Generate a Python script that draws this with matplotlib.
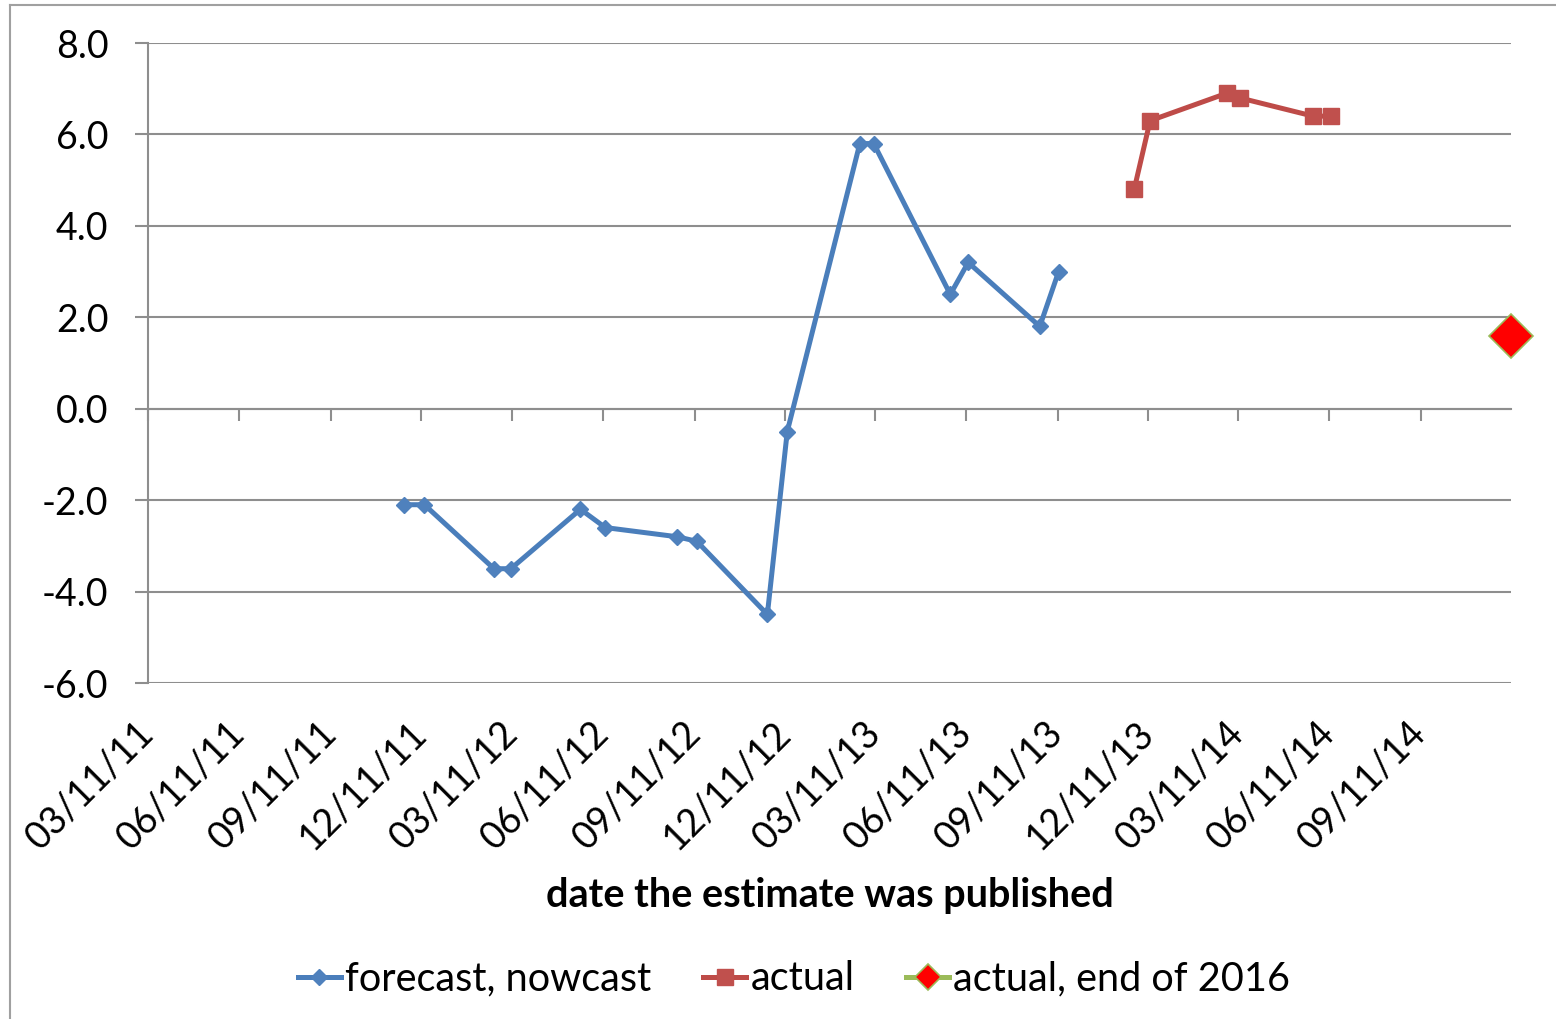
import datetime as dt

import matplotlib
matplotlib.use("Agg")
import matplotlib.pyplot as plt
import matplotlib.dates as mdates
from matplotlib.lines import Line2D
from matplotlib.ticker import FormatStrFormatter

# ---- data -------------------------------------------------------------
forecast_dates = ["2011-11-23", "2011-12-14", "2012-02-22", "2012-03-10",
                  "2012-05-19", "2012-06-13", "2012-08-24", "2012-09-13",
                  "2012-11-23", "2012-12-13", "2013-02-24", "2013-03-10",
                  "2013-05-26", "2013-06-13", "2013-08-24", "2013-09-12"]
forecast_values = [-2.1, -2.1, -3.5, -3.5, -2.2, -2.6, -2.8, -2.9,
                   -4.5, -0.5, 5.8, 5.8, 2.5, 3.2, 1.8, 3.0]

actual_dates = ["2013-11-27", "2013-12-13", "2014-02-28", "2014-03-13",
                "2014-05-26", "2014-06-13"]
actual_values = [4.8, 6.3, 6.9, 6.8, 6.4, 6.4]

final_dates = ["2014-12-11"]
final_values = [1.6]

tick_dates = ["2011-03-11", "2011-06-11", "2011-09-11", "2011-12-11",
              "2012-03-11", "2012-06-11", "2012-09-11", "2012-12-11",
              "2013-03-11", "2013-06-11", "2013-09-11", "2013-12-11",
              "2014-03-11", "2014-06-11", "2014-09-11"]
x_range = ["2011-03-11", "2014-12-11"]
y_ticks = [-6.0, -4.0, -2.0, 0.0, 2.0, 4.0, 6.0, 8.0]

series_labels = ["forecast, nowcast", "actual", "actual, end of 2016"]
x_title = "date the estimate was published"


def to_num(dates):
    return [mdates.date2num(dt.date.fromisoformat(d)) for d in dates]


# ---- style ------------------------------------------------------------
plt.rcParams["font.family"] = ["Lato", "DejaVu Sans"]
plt.rcParams["axes.unicode_minus"] = False
FS = 27
FS_TEXT = 28.5
GRID = "#8e8e8e"
BLUE_LINE = "#4a7ebb"
BLUE_MARK = "#4f81bd"
RED_LINE = "#be4b48"
RED_MARK = "#c0504d"
GREEN = "#9bbb59"

W, H = 1556, 1019
fig = plt.figure(figsize=(W / 100, H / 100), dpi=100)
ax = fig.add_axes([148 / W, 1 - 683 / H, (1511 - 148) / W, (683 - 43) / H])

# ---- series -----------------------------------------------------------
ax.plot(to_num(forecast_dates), forecast_values, color=BLUE_LINE, lw=3.6,
        marker="D", ms=8, mfc=BLUE_MARK, mec=BLUE_MARK,
        label=series_labels[0], zorder=3)
ax.plot(to_num(actual_dates), actual_values, color=RED_LINE, lw=3.6,
        marker="s", ms=12, mfc=RED_MARK, mec=RED_MARK,
        label=series_labels[1], zorder=3)
ax.plot(to_num(final_dates), final_values, color=GREEN, lw=3.6,
        marker="D", ms=22, mfc="#ff0000", mec=GREEN, mew=1.2,
        label=series_labels[2], zorder=4, clip_on=False)

# ---- axes -------------------------------------------------------------
ax.set_xlim(*to_num(x_range))
ax.set_ylim(y_ticks[0], y_ticks[-1])
ax.set_yticks(y_ticks)
ax.yaxis.set_major_formatter(FormatStrFormatter("%.1f"))
ax.grid(axis="y", color=GRID, lw=1.5)
ax.set_axisbelow(True)

for side in ("top", "right"):
    ax.spines[side].set_visible(False)
ax.spines["left"].set_color(GRID)
ax.spines["left"].set_linewidth(1.5)
ax.spines["bottom"].set_position(("data", 0))
ax.spines["bottom"].set_color(GRID)
ax.spines["bottom"].set_linewidth(1.5)

ax.set_xticks(to_num(tick_dates))
ax.tick_params(axis="x", direction="out", length=8.6, width=1.5,
               color=GRID, labelbottom=False)
ax.tick_params(axis="y", direction="out", length=9.4, width=1.5,
               color=GRID, labelsize=FS, pad=19)

# date labels sit below the plot area
sec = ax.secondary_xaxis("bottom")
sec.set_xticks(to_num(tick_dates))
sec.xaxis.set_major_formatter(mdates.DateFormatter("%m/%d/%y"))
sec.tick_params(length=0, labelsize=FS, pad=32)
sec.spines["bottom"].set_visible(False)
for lbl in sec.get_xticklabels():
    lbl.set_rotation(45)
    lbl.set_rotation_mode("anchor")
    lbl.set_ha("right")
    lbl.set_va("center")

fig.text((148 + 1511) / 2 / W, 1 - 896 / H, x_title, ha="center",
         va="center", fontsize=FS_TEXT, fontweight="bold")

# ---- legend -----------------------------------------------------------
leg = fig.legend(loc="center", bbox_to_anchor=(794 / W, 1 - 979 / H),
                 ncol=3, frameon=False, fontsize=FS_TEXT, handlelength=1.1,
                 handletextpad=0.1, columnspacing=1.3)
leg.legend_handles[2].set_markersize(13)

# ---- chart border -----------------------------------------------------
border = dict(color="#a0a0a0", lw=1.5, transform=fig.transFigure)
fig.add_artist(Line2D([10 / W, 10 / W], [1 - 5 / H, -0.1], **border))
fig.add_artist(Line2D([10 / W, 1.1], [1 - 5 / H, 1 - 5 / H], **border))

fig.savefig("out.png", dpi=100)
